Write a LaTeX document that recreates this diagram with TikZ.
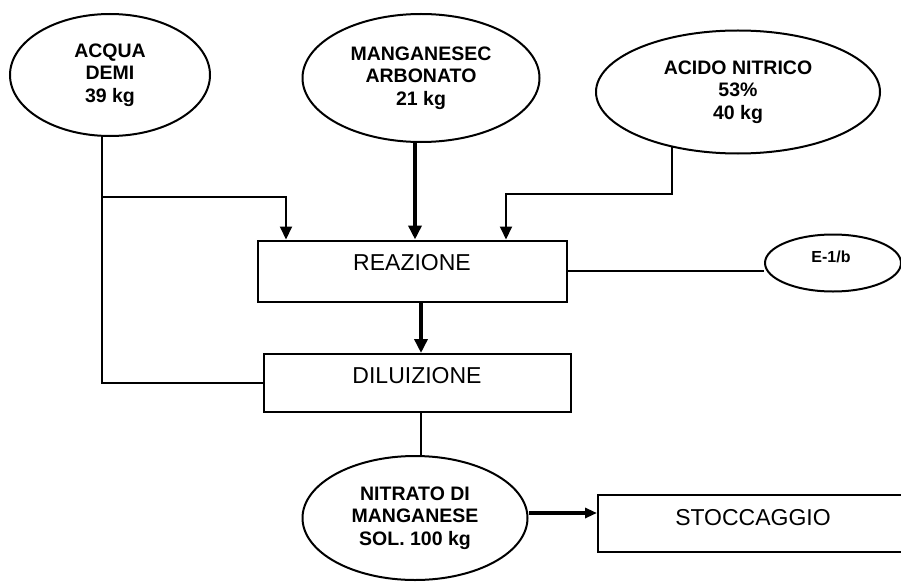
\documentclass[tikz,border=0pt]{standalone}
\usepackage{fontspec}
\setmainfont{Liberation Sans}
\usetikzlibrary{shapes.geometric,arrows.meta}

\tikzset{
  src/.style={ellipse, draw, line width=2pt, inner sep=0pt, align=center,
              font=\bfseries\fontsize{19.5}{22.5}\selectfont},
  stepbox/.style={rectangle, draw, line width=2pt, inner sep=0pt},
  lbl/.style={inner sep=0pt, font=\fontsize{23}{27}\selectfont},
  link/.style={line width=2pt},
  arr/.style={link, -{Triangle[length=13pt,width=12pt]}},
  heavy/.style={line width=3.6pt, -{Triangle[length=14pt,width=13pt]}},
  heavyside/.style={line width=3.6pt, -{Triangle[length=12pt,width=10pt]}}
}

\begin{document}
\begin{tikzpicture}[x=1pt,y=-1pt]
  \useasboundingbox (0,0) rectangle (901,583);
  \clip (0,0) rectangle (901,583);

  % raw materials
  \node[src, minimum width=200pt, minimum height=122pt] (acqua) at (110,75)
    {ACQUA\\DEMI\\39 kg};
  \node[src, minimum width=237pt, minimum height=128pt] (mang) at (421,78)
    {MANGANESEC\\ARBONATO\\21 kg};
  \node[src, minimum width=284pt, minimum height=123pt] (acido) at (738,92)
    {ACIDO NITRICO\\53\%\\40 kg};

  % process steps
  \node[stepbox, minimum width=309pt, minimum height=61pt] (rea) at (412.5,271) {};
  \node[lbl] (reat) at (412,263) {REAZIONE};
  \node[stepbox, minimum width=307pt, minimum height=58pt] (dil) at (417.5,383) {};
  \node[lbl] (dilt) at (417,376) {DILUIZIONE};

  % vent reference
  \node[src, minimum width=136pt, minimum height=57pt] (e1) at (833,263) {};
  \node[inner sep=0pt, font=\bfseries\fontsize{16}{19}\selectfont] (e1t) at (831,257) {E-1/b};

  % product and storage
  \node[src, minimum width=225pt, minimum height=124pt] (nit) at (415,518)
    {NITRATO DI\\MANGANESE\\SOL. 100 kg};
  \node[stepbox, minimum width=312pt, minimum height=57pt] (stoc) at (754,523.5) {};
  \node[lbl] (stoct) at (753,517.5) {STOCCAGGIO};

  % water feed: to reaction and to dilution
  \draw[link] ([xshift=-8pt]acqua.south) |- (dil.west);
  \coordinate (j) at (102,197);
  \draw[arr] (j) -| ([xshift=29pt]rea.north west);

  % carbonate feed
  \draw[heavy] ([xshift=-6pt]mang.south) -- ([xshift=-6pt]mang.south |- rea.north);

  % nitric acid feed
  \draw[arr] (acido.220) -- ++(0,47) -| ([xshift=249pt]rea.north west);

  % reaction to vent
  \draw[link] (rea.east) -- (rea.east -| e1.west);

  % reaction to dilution
  \draw[heavy] ([xshift=8.5pt]rea.south) -- ([xshift=8.5pt]rea.south |- dil.north);

  % dilution to product
  \draw[link] ([xshift=3.5pt]dil.south) -- ([xshift=3.5pt]dil.south |- nit.north);

  % product to storage
  \draw[heavyside] ([yshift=5pt]nit.east) -- ([yshift=5pt]nit.east -| stoc.west);
\end{tikzpicture}
\end{document}
